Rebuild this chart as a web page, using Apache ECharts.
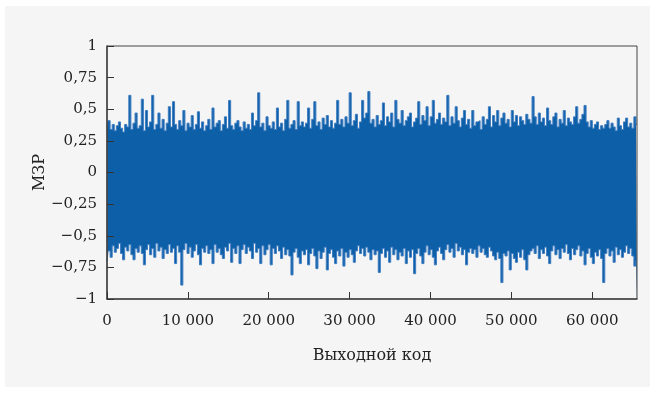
<!DOCTYPE html>
<html>
<head>
<meta charset="utf-8">
<script src="https://cdn.jsdelivr.net/npm/echarts@6/dist/echarts.min.js"></script>
<style>
html,body{margin:0;padding:0;background:#ffffff;}
#chart{width:655px;height:393px;}
</style>
</head>
<body>
<div id="chart"></div>
<script>
// 65536 output codes summarised in 256 bins
const N_BINS = 256;
const X_MAX = 65536;
// Upper envelope of DNL (LSB) per bin
const dnlHigh = [
 0.36,0.41,0.34,0.38,0.33,0.37,0.40,0.35,0.32,0.38,0.36,0.61,0.34,0.39,0.47,0.35,
 0.37,0.58,0.33,0.49,0.36,0.40,0.61,0.34,0.38,0.47,0.35,0.42,0.33,0.39,0.52,0.36,
 0.56,0.38,0.34,0.41,0.37,0.49,0.33,0.39,0.36,0.45,0.34,0.38,0.48,0.35,0.40,0.33,
 0.37,0.42,0.34,0.51,0.36,0.39,0.41,0.33,0.38,0.44,0.35,0.57,0.37,0.34,0.39,0.41,
 0.36,0.33,0.40,0.35,0.38,0.34,0.47,0.37,0.41,0.63,0.36,0.39,0.33,0.44,0.37,0.35,
 0.40,0.34,0.51,0.36,0.39,0.33,0.42,0.57,0.35,0.38,0.41,0.34,0.56,0.37,0.40,0.36,
 0.39,0.51,0.35,0.42,0.56,0.37,0.40,0.34,0.43,0.38,0.45,0.36,0.41,0.35,0.39,0.57,
 0.38,0.42,0.36,0.44,0.39,0.63,0.37,0.41,0.46,0.35,0.40,0.57,0.43,0.47,0.64,0.39,
 0.42,0.36,0.45,0.38,0.41,0.55,0.37,0.44,0.40,0.47,0.36,0.57,0.42,0.39,0.49,0.37,
 0.41,0.44,0.47,0.36,0.40,0.43,0.56,0.38,0.45,0.41,0.52,0.37,0.44,0.57,0.39,0.42,
 0.47,0.38,0.43,0.40,0.61,0.37,0.44,0.39,0.52,0.41,0.36,0.43,0.49,0.38,0.42,0.35,
 0.49,0.37,0.40,0.41,0.34,0.44,0.38,0.42,0.52,0.36,0.45,0.40,0.49,0.37,0.43,0.47,
 0.39,0.42,0.36,0.49,0.40,0.45,0.37,0.44,0.41,0.38,0.46,0.42,0.39,0.60,0.44,0.38,
 0.47,0.40,0.43,0.37,0.51,0.41,0.38,0.44,0.47,0.36,0.42,0.39,0.49,0.37,0.43,0.40,
 0.38,0.44,0.52,0.39,0.42,0.46,0.53,0.40,0.36,0.41,0.35,0.38,0.40,0.34,0.37,0.35,
 0.38,0.41,0.35,0.39,0.36,0.33,0.43,0.37,0.34,0.40,0.43,0.36,0.39,0.35,0.44,0.38
];
// Lower envelope of DNL (LSB) per bin
const dnlLow = [
 -0.70,-0.62,-0.67,-0.58,-0.63,-0.60,-0.56,-0.64,-0.69,-0.59,-0.62,-0.57,-0.65,-0.69,-0.60,-0.63,
 -0.58,-0.64,-0.73,-0.61,-0.57,-0.65,-0.60,-0.67,-0.56,-0.62,-0.59,-0.68,-0.61,-0.64,-0.57,-0.63,
 -0.60,-0.72,-0.58,-0.63,-0.89,-0.61,-0.56,-0.64,-0.59,-0.67,-0.62,-0.57,-0.65,-0.73,-0.60,-0.63,
 -0.58,-0.64,-0.61,-0.72,-0.57,-0.63,-0.60,-0.65,-0.68,-0.59,-0.62,-0.56,-0.71,-0.60,-0.64,-0.58,
 -0.72,-0.61,-0.57,-0.64,-0.59,-0.62,-0.68,-0.56,-0.63,-0.60,-0.72,-0.58,-0.65,-0.61,-0.57,-0.73,
 -0.60,-0.64,-0.58,-0.62,-0.68,-0.59,-0.65,-0.61,-0.66,-0.81,-0.63,-0.60,-0.67,-0.72,-0.62,-0.65,
 -0.61,-0.73,-0.64,-0.60,-0.66,-0.76,-0.62,-0.68,-0.63,-0.59,-0.77,-0.64,-0.61,-0.67,-0.72,-0.62,
 -0.66,-0.60,-0.74,-0.63,-0.67,-0.61,-0.65,-0.71,-0.62,-0.58,-0.64,-0.60,-0.66,-0.59,-0.63,-0.69,
 -0.61,-0.65,-0.62,-0.79,-0.64,-0.60,-0.67,-0.62,-0.71,-0.59,-0.65,-0.61,-0.69,-0.63,-0.66,-0.60,
 -0.72,-0.62,-0.67,-0.61,-0.80,-0.64,-0.60,-0.66,-0.72,-0.63,-0.58,-0.65,-0.61,-0.67,-0.73,-0.62,
 -0.59,-0.64,-0.69,-0.61,-0.57,-0.63,-0.60,-0.67,-0.56,-0.62,-0.59,-0.65,-0.61,-0.73,-0.63,-0.60,
 -0.64,-0.61,-0.67,-0.58,-0.63,-0.60,-0.65,-0.67,-0.59,-0.62,-0.66,-0.69,-0.63,-0.68,-0.87,-0.64,
 -0.66,-0.62,-0.77,-0.64,-0.68,-0.71,-0.63,-0.67,-0.61,-0.69,-0.77,-0.65,-0.62,-0.60,-0.64,-0.58,
 -0.68,-0.61,-0.64,-0.59,-0.66,-0.72,-0.62,-0.58,-0.65,-0.61,-0.68,-0.60,-0.63,-0.57,-0.64,-0.69,
 -0.60,-0.65,-0.61,-0.58,-0.66,-0.62,-0.73,-0.64,-0.60,-0.67,-0.72,-0.63,-0.66,-0.61,-0.68,-0.87,
 -0.64,-0.60,-0.66,-0.62,-0.71,-0.59,-0.65,-0.61,-0.67,-0.63,-0.58,-0.64,-0.60,-0.66,-0.74,-0.69
];
const xTicks = [0, 10000, 20000, 30000, 40000, 50000, 60000];
const yTicks = [-1, -0.75, -0.5, -0.25, 0, 0.25, 0.5, 0.75, 1];

const codeAt = i => i * X_MAX / (N_BINS - 1);
const highPts = dnlHigh.map((v, i) => [codeAt(i), v]);
const lowPts = dnlLow.map((v, i) => [codeAt(i), v]);

const BLUE = '#0d5fa8';
const EDGE = '#3f7dc0';
const PANEL = '#f5f5f5';
const fontFam = 'DejaVu Serif';
const chart = echarts.init(document.getElementById('chart'), null, {renderer: 'canvas'});
chart.setOption({
  animation: false,
  backgroundColor: '#ffffff',
  graphic: [{
    type: 'rect', left: 5, top: 6, z: -100, silent: true,
    shape: {width: 645, height: 381},
    style: {fill: PANEL}
  }],
  grid: {left: 107, right: 18, top: 46, bottom: 94, show: true, borderColor: '#444', borderWidth: 1, backgroundColor: 'transparent', z: 10},
  xAxis: {
    type: 'value', min: 0, max: X_MAX, interval: 10000, z: 10,
    name: 'Выходной код', nameLocation: 'middle', nameGap: 49, nameMoveOverlap: false,
    nameTextStyle: {fontFamily: fontFam, fontSize: 16, color: '#222'},
    axisLine: {show: true, onZero: false, lineStyle: {color: '#444', width: 1.5}},
    axisTick: {show: true, inside: true, length: 7, lineStyle: {color: '#333', width: 1}},
    splitLine: {show: false},
    axisLabel: {
      fontFamily: fontFam, fontSize: 15, color: '#222', margin: 15, showMaxLabel: false,
      formatter: v => xTicks.indexOf(v) >= 0 ? String(v).replace(/\B(?=(\d{3})+(?!\d))/g, ' ') : ''
    }
  },
  yAxis: {
    type: 'value', min: -1, max: 1, interval: 0.25, z: 10,
    name: 'МЗР', nameLocation: 'middle', nameGap: 59, nameMoveOverlap: false,
    nameTextStyle: {fontFamily: fontFam, fontSize: 16, color: '#222'},
    axisLine: {show: true, onZero: false, lineStyle: {color: '#444', width: 1.5}},
    axisTick: {show: true, inside: true, length: 7, lineStyle: {color: '#333', width: 1}},
    splitLine: {show: false},
    axisLabel: {
      fontFamily: fontFam, fontSize: 15, color: '#222', margin: 10,
      formatter: v => yTicks.indexOf(v) >= 0 ? String(v).replace('.', ',').replace('-', '\u2212') : ''
    }
  },
  series: [{
    name: 'upper', type: 'line', data: highPts, symbol: 'none', z: 2, step: 'middle',
    lineStyle: {color: EDGE, width: 1},
    areaStyle: {color: BLUE, opacity: 1, origin: 'start'}
  }, {
    name: 'lower', type: 'line', data: lowPts, symbol: 'none', z: 3, step: 'middle',
    lineStyle: {color: EDGE, width: 1},
    areaStyle: {color: PANEL, opacity: 1, origin: 'start'}
  }]
});
</script>
</body>
</html>
